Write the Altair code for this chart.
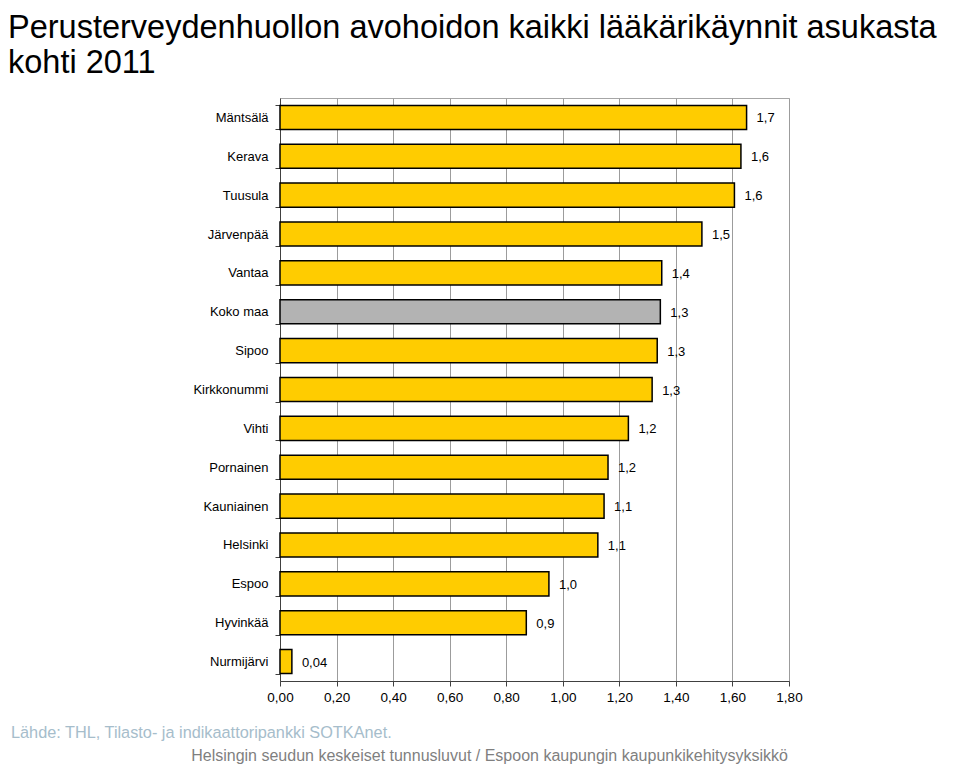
import altair as alt
import pandas as pd

categories = ["Mäntsälä", "Kerava", "Tuusula", "Järvenpää", "Vantaa", "Koko maa",
              "Sipoo", "Kirkkonummi", "Vihti", "Pornainen", "Kauniainen",
              "Helsinki", "Espoo", "Hyvinkää", "Nurmijärvi"]
values = [1.65, 1.63, 1.607, 1.492, 1.35, 1.345, 1.334, 1.316, 1.232, 1.16,
          1.146, 1.124, 0.951, 0.871, 0.042]
value_labels = ["1,7", "1,6", "1,6", "1,5", "1,4", "1,3", "1,3", "1,3", "1,2",
                "1,2", "1,1", "1,1", "1,0", "0,9", "0,04"]
highlight = "Koko maa"
x_ticks = [0.0, 0.2, 0.4, 0.6, 0.8, 1.0, 1.2, 1.4, 1.6, 1.8]
title_lines = ["Perusterveydenhuollon avohoidon kaikki lääkärikäynnit asukasta",
               "kohti 2011"]
source_note = "Lähde: THL, Tilasto- ja indikaattoripankki SOTKAnet."
credit_note = "Helsingin seudun keskeiset tunnusluvut / Espoon kaupungin kaupunkikehitysyksikkö"

FONT = "Liberation Sans"

df = pd.DataFrame({"kunta": categories, "arvo": values, "nimi": value_labels})
df["ryhma"] = ["maa" if k == highlight else "kunta" for k in df["kunta"]]

y_enc = alt.Y(
    "kunta:N", sort=categories, title=None,
    scale=alt.Scale(paddingInner=0.38, paddingOuter=0.19),
    axis=alt.Axis(tickBand="extent", domainColor="#404040", tickColor="#404040",
                  tickSize=5, labelPadding=7, labelFontSize=13, labelFont=FONT,
                  labelColor="#000000", grid=False, labelLimit=300),
)
x_enc = alt.X(
    "arvo:Q", title=None,
    scale=alt.Scale(domain=[0, 1.8], nice=False, zero=True),
    axis=alt.Axis(values=x_ticks,
                  labelExpr="replace(format(datum.value, '.2f'), '.', ',')",
                  grid=True, gridColor="#9c9c9c", gridWidth=1,
                  domainColor="#404040", tickColor="#404040", tickSize=5,
                  labelPadding=4, labelFontSize=13.5, labelFont=FONT,
                  labelColor="#000000", labelFlush=False, labelOverlap=False),
)

base = alt.Chart(df)

bars = base.mark_bar(stroke="#000000", strokeWidth=1.5).encode(
    x=x_enc, y=y_enc,
    color=alt.Color("ryhma:N", legend=None,
                    scale=alt.Scale(domain=["kunta", "maa"],
                                    range=["#FFCC00", "#B3B3B3"])),
)

labels = base.mark_text(align="left", baseline="middle", dx=10, dy=1,
                        fontSize=13, font=FONT, color="#000000").encode(
    x="arvo:Q", y=alt.Y("kunta:N", sort=categories), text="nimi:N")

one = pd.DataFrame({"a": [0]})

title1 = alt.Chart(one).mark_text(align="left", baseline="alphabetic", fontSize=32.5,
                                  font=FONT, color="#000000").encode(
    x=alt.value(-272), y=alt.value(-60), text=alt.value(title_lines[0]))
title2 = alt.Chart(one).mark_text(align="left", baseline="alphabetic", fontSize=32.5,
                                  font=FONT, color="#000000").encode(
    x=alt.value(-272), y=alt.value(-25), text=alt.value(title_lines[1]))

foot1 = alt.Chart(one).mark_text(align="left", baseline="alphabetic", fontSize=16.3,
                                 font=FONT, color="#A6BDCB").encode(
    x=alt.value(-269), y=alt.value(640), text=alt.value(source_note))
foot2 = alt.Chart(one).mark_text(align="right", baseline="alphabetic", fontSize=16,
                                 font=FONT, color="#7F7F7F").encode(
    x=alt.value(508), y=alt.value(663), text=alt.value(credit_note))

chart = alt.layer(bars, labels, title1, title2, foot1, foot2).properties(
    width=509, height=583,
    autosize=alt.AutoSizeParams(type="none"),
    padding={"left": 272, "top": 90, "right": 162, "bottom": 86},
).configure_view(stroke="#A6A6A6", strokeWidth=1)

chart.save("out.html", embed_options={"renderer": "svg", "actions": False})
